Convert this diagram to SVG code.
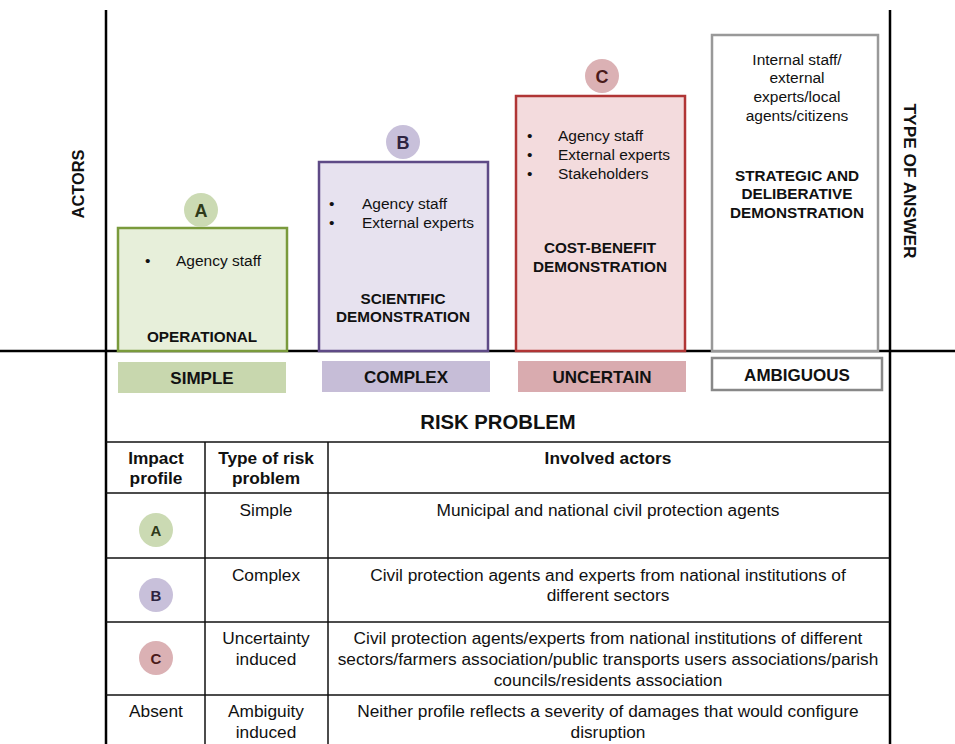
<svg xmlns="http://www.w3.org/2000/svg" width="955" height="744" viewBox="0 0 955 744">
<style>
text{font-family:"Liberation Sans",Arial,sans-serif;fill:#111;}
.r{font-size:17.3px;text-anchor:middle;}
.b{font-weight:bold;}
.bx{font-size:15.5px;}
.lb{font-size:15.3px;font-weight:bold;text-anchor:middle;}
.bar{font-size:17px;font-weight:bold;text-anchor:middle;}
.ax{stroke:#000;stroke-width:2.5;fill:none;}
.tl{stroke:#111;stroke-width:1.5;fill:none;}
.cl{font-size:18px;font-weight:bold;text-anchor:middle;}
.tc{font-size:15px;font-weight:bold;text-anchor:middle;}
</style>
<rect width="955" height="744" fill="#fff"/>
<g id="connectors">
<line class="ax" x1="106" y1="10" x2="106" y2="744"/>
<line class="ax" x1="890" y1="10" x2="890" y2="744"/>
<line class="ax" x1="0" y1="351" x2="955" y2="351"/>
</g>
<text class="b" font-size="16.4" text-anchor="middle" transform="translate(84,184) rotate(-90)">ACTORS</text>
<text class="b" font-size="17.3" text-anchor="middle" transform="translate(904,181) rotate(90)">TYPE OF ANSWER</text>
<g id="nodeA">
<rect x="118" y="228" width="169" height="123" fill="#e7efda" stroke="#7a9a3c" stroke-width="2.5"/>
<circle cx="201" cy="210" r="17" fill="#cbdab3"/>
<text class="cl" x="201" y="216.5" style="fill:#2f3a1a">A</text>
<text class="bx" x="145" y="265.5">•</text>
<text class="bx" x="176" y="265.5">Agency staff</text>
<text class="lb" x="202" y="341.5">OPERATIONAL</text>
</g>
<g id="nodeB">
<rect x="319" y="162" width="169" height="189" fill="#e7e2ef" stroke="#5e4a86" stroke-width="2.5"/>
<circle cx="403" cy="142" r="17" fill="#c8c0da"/>
<text class="cl" x="403" y="148.5" style="fill:#2e2440">B</text>
<text class="bx" x="329" y="209">•</text>
<text class="bx" x="362" y="209">Agency staff</text>
<text class="bx" x="329" y="227.5">•</text>
<text class="bx" x="362" y="227.5">External experts</text>
<text class="lb" x="403" y="303.5">SCIENTIFIC</text>
<text class="lb" x="403" y="321.5">DEMONSTRATION</text>
</g>
<g id="nodeC">
<rect x="516" y="96" width="169" height="255" fill="#f3dbdd" stroke="#b03535" stroke-width="2.5"/>
<circle cx="602" cy="76" r="17" fill="#dbb1b4"/>
<text class="cl" x="602" y="82.5" style="fill:#4a1a1a">C</text>
<text class="bx" x="527" y="140.5">•</text>
<text class="bx" x="558" y="140.5">Agency staff</text>
<text class="bx" x="527" y="159.5">•</text>
<text class="bx" x="558" y="159.5">External experts</text>
<text class="bx" x="527" y="178.5">•</text>
<text class="bx" x="558" y="178.5">Stakeholders</text>
<text class="lb" x="600" y="252.5">COST-BENEFIT</text>
<text class="lb" x="600" y="271.5">DEMONSTRATION</text>
</g>
<g id="nodeD">
<rect x="712" y="35" width="166" height="316" fill="#fff" stroke="#999" stroke-width="2.5"/>
<text class="bx" text-anchor="middle" x="797" y="64.5">Internal staff/</text>
<text class="bx" text-anchor="middle" x="797" y="83">external</text>
<text class="bx" text-anchor="middle" x="797" y="102">experts/local</text>
<text class="bx" text-anchor="middle" x="797" y="121">agents/citizens</text>
<text class="lb" x="797" y="180.5">STRATEGIC AND</text>
<text class="lb" x="797" y="198.5">DELIBERATIVE</text>
<text class="lb" x="797" y="217.5">DEMONSTRATION</text>
</g>
<g id="bars">
<rect x="118" y="362" width="168" height="31" fill="#c8d7ae"/>
<text class="bar" x="202" y="384">SIMPLE</text>
<rect x="322" y="361" width="168" height="31" fill="#c6bdd7"/>
<text class="bar" x="406" y="383">COMPLEX</text>
<rect x="518" y="361" width="168" height="31" fill="#d9abaf"/>
<text class="bar" x="602" y="383">UNCERTAIN</text>
<rect x="712" y="358" width="170" height="32" fill="#fff" stroke="#888" stroke-width="2.5"/>
<text class="bar" x="797" y="381">AMBIGUOUS</text>
</g>
<text class="b" font-size="20.3" text-anchor="middle" x="498" y="428.5">RISK PROBLEM</text>
<g id="table">
<line class="tl" x1="106" y1="442" x2="890" y2="442"/>
<line class="tl" x1="106" y1="493" x2="890" y2="493"/>
<line class="tl" x1="106" y1="558" x2="890" y2="558"/>
<line class="tl" x1="106" y1="622" x2="890" y2="622"/>
<line class="tl" x1="106" y1="695" x2="890" y2="695"/>
<line class="tl" x1="205" y1="442" x2="205" y2="744"/>
<line class="tl" x1="328" y1="442" x2="328" y2="744"/>
<text class="r b" x="156" y="464">Impact</text>
<text class="r b" x="156" y="484">profile</text>
<text class="r b" x="266" y="464">Type of risk</text>
<text class="r b" x="266" y="484">problem</text>
<text class="r b" x="608" y="464">Involved actors</text>
<circle cx="156" cy="530" r="17" fill="#cbdab3"/>
<text class="tc" x="156" y="535.5" style="fill:#2f3a1a">A</text>
<text class="r" x="266" y="516">Simple</text>
<text class="r" x="608" y="516">Municipal and national civil protection agents</text>
<circle cx="156" cy="595" r="17" fill="#c8c0da"/>
<text class="tc" x="156" y="600.5" style="fill:#2e2440">B</text>
<text class="r" x="266" y="581">Complex</text>
<text class="r" x="608" y="581">Civil protection agents and experts from national institutions of</text>
<text class="r" x="608" y="601">different sectors</text>
<circle cx="156" cy="658" r="17" fill="#dbb1b4"/>
<text class="tc" x="156" y="663.5" style="fill:#4a1a1a">C</text>
<text class="r" x="266" y="644">Uncertainty</text>
<text class="r" x="266" y="665">induced</text>
<text class="r" x="608" y="644">Civil protection agents/experts from national institutions of different</text>
<text class="r" x="608" y="665">sectors/farmers association/public transports users associations/parish</text>
<text class="r" x="608" y="686">councils/residents association</text>
<text class="r" x="156" y="717">Absent</text>
<text class="r" x="266" y="717">Ambiguity</text>
<text class="r" x="266" y="738">induced</text>
<text class="r" x="608" y="717">Neither profile reflects a severity of damages that would configure</text>
<text class="r" x="608" y="738">disruption</text>
</g>
</svg>
